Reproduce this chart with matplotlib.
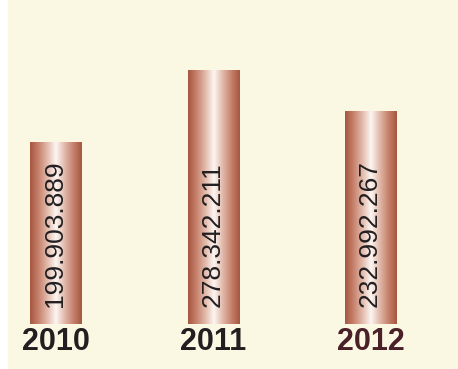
"""Bar chart of yearly totals, copper-style bars on a cream panel."""
import matplotlib
matplotlib.use("Agg")
import matplotlib.pyplot as plt
import numpy as np
from matplotlib.colors import LinearSegmentedColormap
from matplotlib.patches import Rectangle

years = ["2010", "2011", "2012"]
values = [199.903889, 278.342211, 232.992267]
value_labels = ["199.903.889", "278.342.211", "232.992.267"]
year_colors = ["#231f20", "#231f20", "#4a2029"]

CREAM = "#faf7e2"
W, H = 458, 369

plt.rcParams["font.family"] = ["Liberation Sans", "DejaVu Sans"]

fig = plt.figure(figsize=(W / 100, H / 100), dpi=100, facecolor="white")
# cream panel behind the axes (white strip on the left as in the original)
fig.patches.append(Rectangle((8 / W, 1 / H), 1 - 8 / W, 1 - 1 / H,
                             transform=fig.transFigure, color=CREAM, zorder=-1))

ax = fig.add_axes([0, 45 / H, 1, 1 - 45 / H])
ax.set_facecolor("none")

x = np.arange(len(years))
bars = ax.bar(x, values, width=0.33, color="none")

ax.set_xlim(-0.356, 2.552)
ax.set_ylim(0, 356)

# copper gradient: dark edges, bright highlight in the middle
copper = LinearSegmentedColormap.from_list(
    "copper_bar",
    ["#a5573f", "#c7826d", "#e2baab", "#fdf6f3", "#e2baab", "#c7826d", "#a5573f"],
)
grad = np.linspace(0, 1, 256).reshape(1, -1)
for bar in bars:
    x0, w, h = bar.get_x(), bar.get_width(), bar.get_height()
    ax.imshow(grad, cmap=copper, aspect="auto", interpolation="bicubic",
              extent=(x0, x0 + w, 0, h), zorder=2)

for xi, label in zip(x, value_labels):
    ax.annotate(label, xy=(xi, 0), xytext=(-1, 12), textcoords="offset points",
                rotation=90, ha="center", va="bottom", fontsize=19,
                color="#231f20", zorder=3)

ax.set_xticks(x, years)
ax.tick_params(axis="x", length=0, pad=2, labelsize=22)
for tick, color in zip(ax.get_xticklabels(), year_colors):
    tick.set_fontweight("bold")
    tick.set_color(color)
ax.set_yticks([])
for spine in ax.spines.values():
    spine.set_visible(False)

fig.savefig("out.png", dpi=100)
